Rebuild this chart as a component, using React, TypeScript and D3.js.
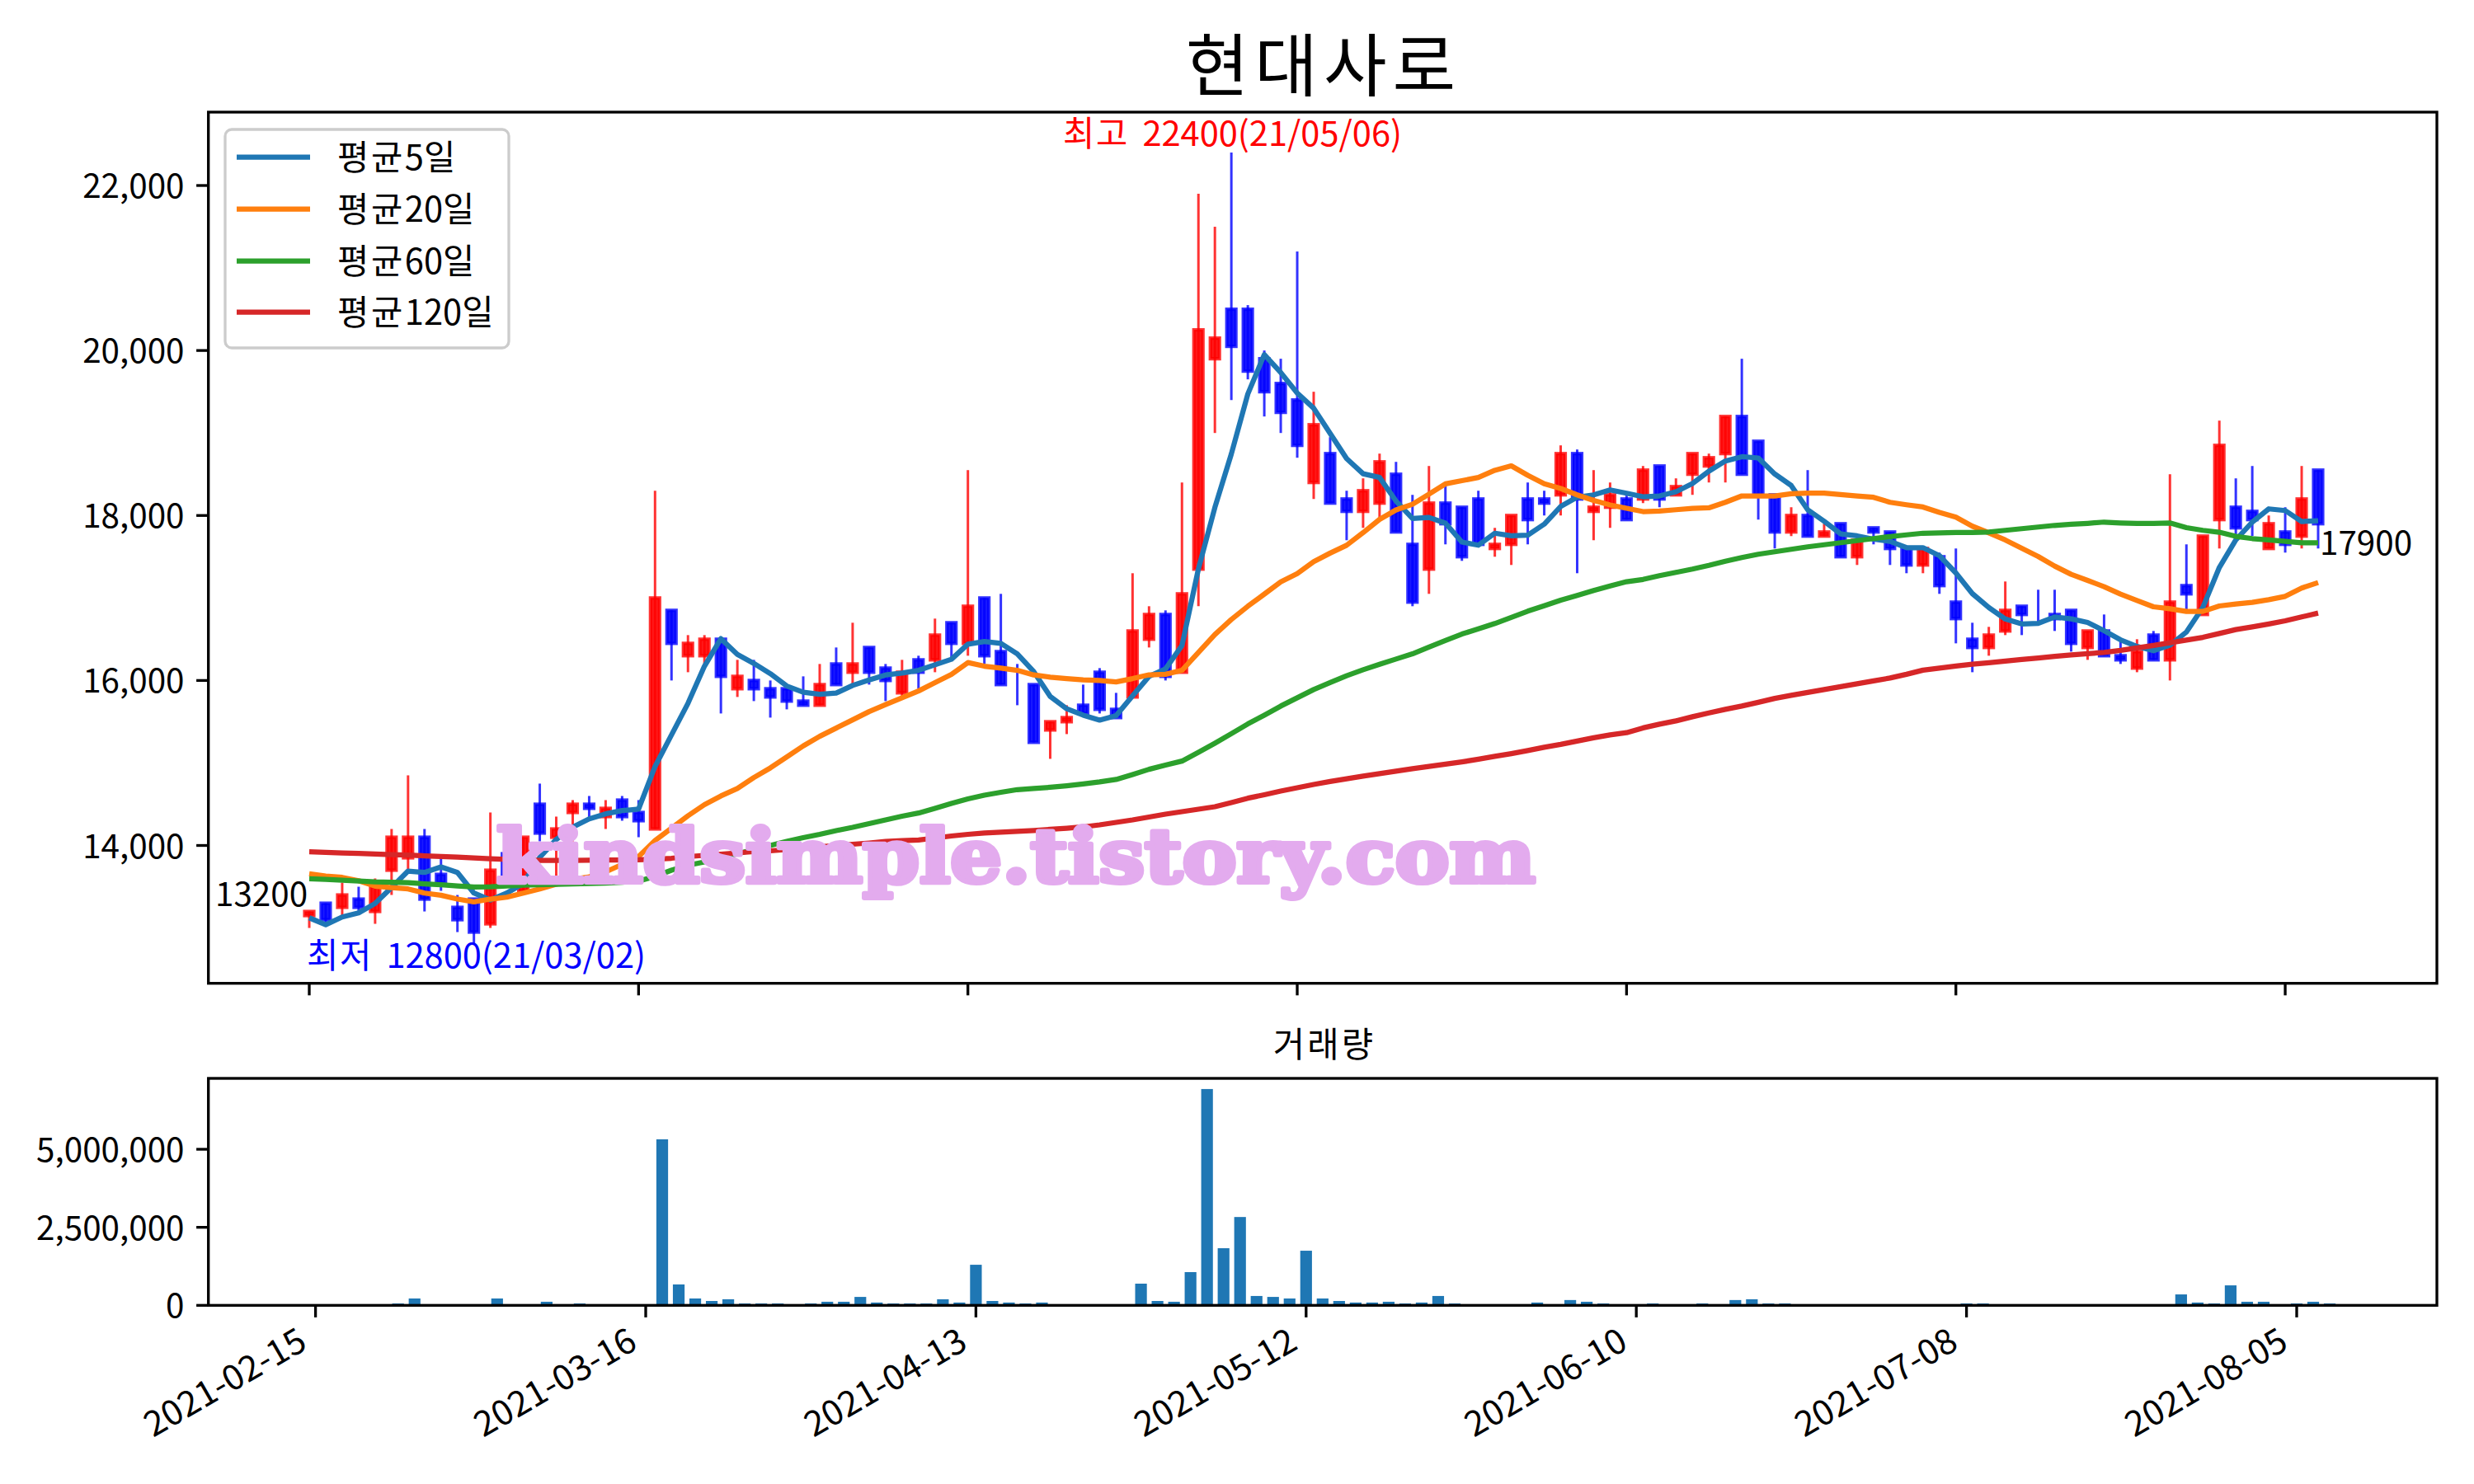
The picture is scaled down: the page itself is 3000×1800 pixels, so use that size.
import React from "react";
import * as d3 from "d3";

const opens = [13150,13300,13250,13350,13200,13700,13850,14100,13650,13250,13350,13050,13900,13450,14500,14100,14400,14500,14350,14550,14400,14200,16850,16300,16300,16500,15900,16000,15900,15900,15750,15700,16200,16100,16400,16150,15850,16250,16250,16700,16450,17000,16350,15950,15950,15400,15500,15700,16100,15650,15800,16500,16800,16100,17350,19900,20500,20500,19900,19600,19400,18400,18750,18200,18050,18150,18500,17650,17350,18150,18100,18200,17600,17650,18200,18200,18250,18750,18050,18100,18200,18200,18600,18250,18500,18600,18750,19200,18900,18250,17800,18000,17750,17900,17500,17850,17800,17600,17400,17500,16950,16500,16400,16600,16900,16800,16800,16850,16400,16600,16300,16150,16550,16250,17150,16800,17950,18100,18050,17600,17800,17750,18550];
const closes = [13200,13100,13400,13250,13500,14100,14100,13350,13550,13100,12950,13700,13600,14100,14150,14200,14500,14450,14450,14350,14300,17000,16450,16450,16500,16050,16050,15900,15800,15750,15700,15950,15950,16200,16100,16000,16100,16100,16550,16450,16900,16300,15950,15950,15250,15500,15550,15600,15650,15550,16600,16800,16050,17050,20250,20150,20050,19750,19500,19250,18850,19100,18150,18050,18300,18650,17800,16950,18150,17900,17500,17650,17650,18000,17950,18150,18750,18200,18100,18250,17950,18550,18200,18350,18750,18700,19200,18500,18250,17800,18000,17750,17800,17500,17700,17800,17600,17400,17600,17150,16750,16400,16550,16850,16800,16800,16750,16450,16600,16300,16250,16350,16250,16950,17050,17750,18850,17850,17950,17900,17650,18200,17900];
const highs = [13200,13300,13550,13500,13600,14200,14850,14200,13850,13400,13350,14400,14000,14100,14750,14350,14550,14600,14550,14600,14550,18300,16850,16550,16550,16500,16250,16250,16000,15900,16050,16200,16400,16700,16400,16200,16250,16300,16750,16700,18550,17000,17050,16200,15950,15500,15700,15950,16150,15850,17300,16900,16850,18400,21900,21500,22400,20550,20000,19900,21200,19500,18950,18300,18450,18750,18650,18250,18600,18400,18100,18300,17850,18000,18400,18300,18850,18800,18550,18400,18250,18600,18600,18450,18750,18750,19200,19900,18900,18250,18100,18550,17900,17900,17750,17850,17800,17600,17600,17550,17600,16700,16650,17200,16900,17100,17100,16850,16600,16800,16500,16500,16600,18500,17650,17750,19150,18450,18600,18000,18100,18600,18550];
const lows = [13000,13050,13150,13200,13050,13400,13700,13200,13450,12950,12800,13000,13550,13400,14050,13600,14050,14300,14200,14300,14100,14200,16000,16100,16200,15600,15800,15750,15550,15650,15700,15700,15950,15950,15950,15750,15800,15900,16100,16250,16300,16200,15950,15700,15250,15050,15350,15600,15600,15550,15800,16400,16000,16100,16900,19000,19400,19650,19200,19000,18700,18200,18150,17700,17850,17950,17800,16900,17050,17650,17450,17650,17500,17400,17650,18000,18000,17300,17700,17850,17950,18150,18100,18250,18250,18400,18400,18500,17950,17600,17750,17750,17750,17500,17400,17650,17400,17300,17300,17050,16450,16100,16300,16550,16550,16700,16600,16350,16250,16300,16200,16100,16250,16000,16850,16800,17600,17750,17750,17600,17550,17600,17600];

const ma5 = [13123,13040,13133,13183,13297,13490,13690,13673,13740,13673,13423,13340,13423,13540,13857,14073,14223,14323,14383,14423,14440,14957,15340,15723,16173,16507,16317,16207,16083,15933,15857,15833,15847,15940,16007,16067,16090,16123,16190,16257,16440,16473,16450,16323,16107,15807,15657,15580,15520,15573,15815,16050,16140,16423,17353,18098,18747,19473,19950,19733,19484,19300,18995,18690,18506,18461,18174,17964,17976,17907,17678,17640,17785,17754,17762,17895,18109,18222,18250,18310,18270,18227,18237,18287,18387,18537,18660,18713,18697,18503,18363,18070,17930,17777,17753,17713,17687,17610,17610,17513,17303,17053,16885,16745,16685,16693,16770,16747,16703,16603,16493,16413,16360,16427,16587,16887,17370,17703,17920,18080,18060,17927,17937];
const ma20 = [13657,13630,13613,13573,13507,13490,13473,13423,13397,13350,13317,13350,13373,13423,13473,13530,13590,13620,13680,13770,13865,14060,14210,14360,14495,14600,14690,14823,14940,15073,15207,15323,15423,15523,15623,15707,15790,15873,15973,16073,16217,16173,16150,16123,16067,16040,16023,16007,16000,15983,16023,16068,16075,16123,16340,16557,16740,16900,17047,17195,17296,17441,17544,17639,17792,17953,18067,18136,18258,18384,18422,18461,18548,18602,18487,18384,18327,18250,18182,18128,18087,18047,18053,18070,18087,18093,18160,18237,18237,18237,18263,18270,18270,18253,18237,18220,18160,18130,18103,18037,17980,17870,17790,17703,17603,17503,17387,17287,17213,17137,17047,16970,16893,16870,16837,16837,16903,16927,16947,16980,17020,17120,17187];
const ma60 = [13597,13590,13580,13570,13560,13555,13550,13535,13523,13510,13497,13500,13510,13520,13525,13530,13535,13540,13545,13555,13567,13625,13700,13760,13800,13850,13900,13950,14000,14050,14095,14135,14180,14220,14265,14310,14355,14393,14450,14510,14565,14610,14645,14677,14690,14705,14723,14745,14770,14800,14860,14923,14975,15023,15130,15240,15355,15473,15580,15690,15790,15890,15975,16057,16130,16197,16260,16323,16405,16485,16563,16625,16690,16765,16840,16905,16973,17030,17090,17145,17197,17225,17270,17310,17350,17395,17445,17490,17530,17560,17590,17620,17645,17670,17695,17720,17745,17765,17785,17790,17795,17795,17800,17820,17840,17860,17880,17893,17905,17920,17910,17903,17905,17910,17853,17820,17797,17747,17720,17703,17687,17670,17670];
const ma120 = [13923,13917,13910,13904,13897,13890,13883,13875,13867,13858,13850,13840,13832,13825,13820,13820,13820,13822,13823,13824,13826,13835,13845,13865,13880,13895,13910,13925,13935,13950,13970,13985,14000,14015,14030,14048,14058,14067,14090,14115,14135,14150,14160,14170,14182,14195,14208,14225,14250,14280,14310,14345,14380,14410,14440,14470,14520,14573,14615,14660,14700,14740,14775,14808,14840,14870,14900,14930,14958,14985,15013,15045,15080,15113,15150,15190,15225,15265,15305,15340,15367,15425,15470,15510,15560,15607,15650,15690,15735,15783,15820,15855,15890,15925,15960,15995,16030,16075,16125,16150,16175,16197,16215,16235,16255,16273,16293,16310,16325,16340,16365,16395,16425,16457,16490,16523,16570,16617,16650,16685,16723,16770,16817];
const volumes = [20000,20000,20000,20000,20000,60000,220000,20000,20000,20000,20000,220000,20000,20000,115000,20000,60000,20000,20000,20000,20000,5320000,670000,220000,140000,195000,60000,60000,60000,20000,60000,115000,115000,270000,90000,60000,60000,60000,195000,90000,1300000,140000,90000,60000,90000,20000,20000,20000,20000,20000,695000,140000,115000,1065000,6930000,1830000,2830000,300000,270000,220000,1750000,220000,140000,90000,90000,115000,60000,90000,300000,60000,20000,20000,20000,20000,90000,20000,170000,115000,60000,20000,20000,60000,20000,20000,60000,20000,170000,195000,60000,60000,20000,20000,20000,20000,20000,20000,20000,20000,20000,20000,60000,60000,20000,20000,20000,20000,20000,20000,20000,20000,20000,20000,20000,350000,90000,60000,640000,115000,115000,20000,60000,115000,60000];

const priceTicks = [14000, 16000, 18000, 20000, 22000];
const volumeTicks = [0, 2500000, 5000000];
const dateTickIndex = [0, 20, 40, 60, 80, 100, 120];
const dateLabels = ["2021-02-15","2021-03-16","2021-04-13","2021-05-12","2021-06-10","2021-07-08","2021-08-05"];
const maSeries = [
  { name: "평균5일", values: ma5, color: "#1f77b4" },
  { name: "평균20일", values: ma20, color: "#ff7f0e" },
  { name: "평균60일", values: ma60, color: "#2ca02c" },
  { name: "평균120일", values: ma120, color: "#d62728" },
];
const titleText = "현대사로";
const volumeTitle = "거래량";
const highNote = "최고 22400(21/05/06)";
const lowNote = "최저 12800(21/03/02)";
const firstClose = "13200";
const lastClose = "17900";
const watermark = "kindsimple.tistory.com";

const FONT = "'Noto Sans CJK KR','Noto Sans',sans-serif";
const FS = 41.67;
const NUM = 40.4;
const SPINE = 3.33;
const TICK = 14.6;
const L = 252.7, R = 2955;
const T1 = 136, B1 = 1192.7, T2 = 1308, B2 = 1583.3;

const xMain = d3.scaleLinear().domain([0, 122]).range([375, 2811]);
const xVol = d3.scaleLinear().domain([0, 120]).range([382.6, 2785]);
const yMain = d3.scaleLinear().domain([14000, 22000]).range([1025.5, 225]);
const yVol = d3.scaleLinear().domain([0, 5000000]).range([B2, 1394]);
const fmt = d3.format(",");

const maLine = (vals: number[]) =>
  d3.line<number>().x((_, i) => xMain(i)).y((v) => yMain(v))(vals) as string;

// Hangul runs are set a little wider than the stock font.
const runs = (s: string, han: number, other: number) =>
  s.split(/([가-힣]+)/).filter(Boolean).map((r, i) =>
    /[가-힣]/.test(r) ? (
      <tspan key={i} fontSize={FS} letterSpacing={han}>{r}</tspan>
    ) : (
      <tspan key={i} fontSize={other}>{r}</tspan>
    )
  );

const BODY = 11;
const BAR = 14.2;

export default function App() {
  return (
    <svg width={3000} height={1800} viewBox="0 0 3000 1800" style={{ position: "absolute", left: 0, top: 0, background: "#fff" }} fontFamily={FONT}>
      <rect width={3000} height={1800} fill="#fff" />
      <text x={1605} y={110} fontSize={83.3} textAnchor="middle" letterSpacing={7}>{titleText}</text>

      <g>
        {opens.map((o, i) => {
          const c = closes[i];
          const col = c > o ? "#ff0000" : "#0000ff";
          const x = xMain(i);
          const top = yMain(Math.max(o, c));
          const bot = yMain(Math.min(o, c));
          return (
            <g key={i}>
              <line x1={x} x2={x} y1={yMain(highs[i])} y2={yMain(lows[i])} stroke={col} strokeOpacity={0.8} strokeWidth={3} />
              <rect x={x - BODY / 2} width={BODY} y={top} height={bot - top} fill={col} fillOpacity={0.9} stroke={col} strokeOpacity={0.8} strokeWidth={4.17} strokeLinejoin="miter" />
            </g>
          );
        })}
      </g>

      {maSeries.map((s) => (
        <path key={s.name} d={maLine(s.values)} fill="none" stroke={s.color} strokeWidth={6.25} strokeLinejoin="round" strokeLinecap="butt" />
      ))}

      <text x={372} y={1174} fill="#0000ff" wordSpacing={7}>{runs(lowNote, 1.7, 41.6)}</text>
      <text x={1289} y={177} fill="#ff0000" wordSpacing={7}>{runs(highNote, 1.7, 41.6)}</text>
      <text x={261} y={1099} fontSize={NUM}>{firstClose}</text>
      <text x={2813} y={673} fontSize={NUM}>{lastClose}</text>

      <text x={602} y={1070} fontSize={90} fontFamily="'DejaVu Serif',serif" fontWeight={700} fill="#e3abee" stroke="#e3abee" strokeWidth={6} strokeLinejoin="round" textLength={1260} lengthAdjust="spacingAndGlyphs">{watermark}</text>

      <rect x={L} y={T1} width={R - L} height={B1 - T1} fill="none" stroke="#000" strokeWidth={SPINE} />
      {priceTicks.map((t) => (
        <g key={t}>
          <line x1={L - TICK} x2={L} y1={yMain(t)} y2={yMain(t)} stroke="#000" strokeWidth={SPINE} />
          <text x={L - TICK - 14.6} y={yMain(t) + 15} fontSize={NUM} textAnchor="end">{fmt(t)}</text>
        </g>
      ))}
      {dateTickIndex.map((t) => (
        <line key={t} x1={xMain(t)} x2={xMain(t)} y1={B1} y2={B1 + TICK} stroke="#000" strokeWidth={SPINE} />
      ))}

      <rect x={273} y={157} width={344} height={265} rx={8} fill="#fff" fillOpacity={0.8} stroke="#ccc" strokeWidth={3.33} />
      {maSeries.map((s, i) => {
        const y = [190.7, 253.7, 316.7, 378.7][i];
        return (
          <g key={s.name}>
            <line x1={287} x2={376} y1={y} y2={y} stroke={s.color} strokeWidth={6.25} />
            <text x={409} y={y + 15}>{runs(s.name, 2.6, FS)}</text>
          </g>
        );
      })}

      <text x={1606} y={1282} fontSize={FS} textAnchor="middle" letterSpacing={3.2}>{volumeTitle}</text>
      {volumes.map((v, i) => (
        <rect key={i} x={xVol(i) - BAR / 2} width={BAR} y={yVol(v)} height={B2 - yVol(v)} fill="#1f77b4" />
      ))}
      <rect x={L} y={T2} width={R - L} height={B2 - T2} fill="none" stroke="#000" strokeWidth={SPINE} />
      {volumeTicks.map((t) => (
        <g key={t}>
          <line x1={L - TICK} x2={L} y1={yVol(t)} y2={yVol(t)} stroke="#000" strokeWidth={SPINE} />
          <text x={L - TICK - 14.6} y={yVol(t) + 15} fontSize={NUM} textAnchor="end">{fmt(t)}</text>
        </g>
      ))}
      {dateTickIndex.map((t, k) => {
        const x = xVol(t);
        return (
          <g key={t}>
            <line x1={x} x2={x} y1={B2} y2={B2 + TICK} stroke="#000" strokeWidth={SPINE} />
            <text transform={`translate(${x - 8},${B2 + TICK + 37}) rotate(-30)`} fontSize={42.5} textAnchor="end">{dateLabels[k]}</text>
          </g>
        );
      })}
    </svg>
  );
}
